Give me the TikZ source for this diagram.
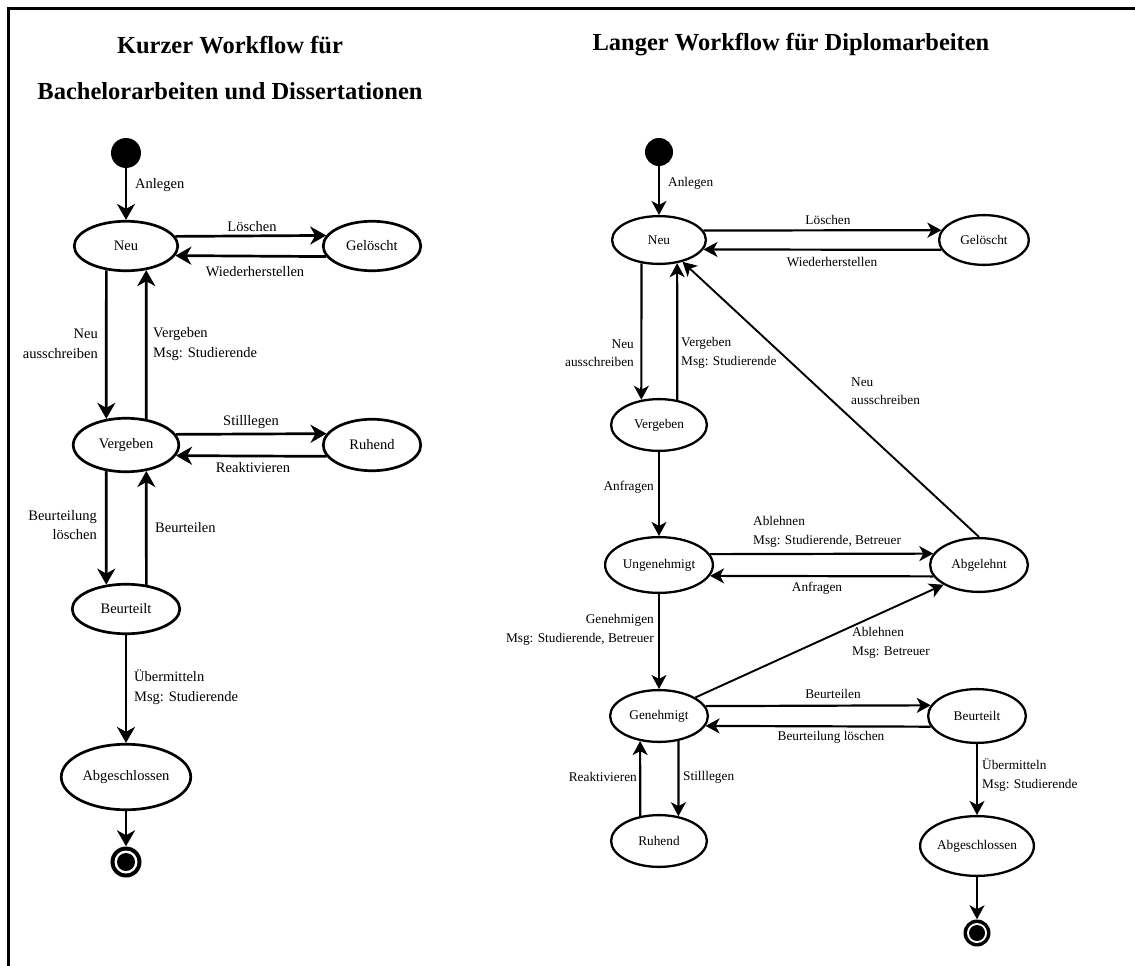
\documentclass[tikz,border=0pt]{standalone}
\usepackage{fontspec}
\setmainfont{Liberation Serif}
\usetikzlibrary{arrows.meta,shapes.geometric}

\tikzset{
  lstate/.style={ellipse, draw, line width=2.7pt, inner sep=0pt, font=\fontsize{14.5}{19}\selectfont},
  rstate/.style={ellipse, draw, line width=2.3pt, inner sep=0pt, font=\fontsize{13.3}{18}\selectfont},
  larr/.style={line width=2.7pt, -{Stealth[length=16pt,width=18pt,inset=5pt]}},
  rarr/.style={line width=2.2pt, -{Stealth[length=14pt,width=15pt,inset=4pt]}},
  rdiag/.style={line width=1.9pt, -{Stealth[length=14pt,width=15pt,inset=4pt]}},
  llab/.style={font=\fontsize{14.5}{19.5}\selectfont, inner sep=0pt},
  rlab/.style={font=\fontsize{13.3}{18.5}\selectfont, inner sep=0pt},
  ttl/.style={font=\fontsize{24.5}{29}\selectfont\bfseries, inner sep=0pt},
  startdot/.style={circle, fill=black, inner sep=0pt},
  enddot/.style={circle, fill=black, inner sep=0pt},
}

\begin{document}
\begin{tikzpicture}[x=1pt,y=-1pt]
\useasboundingbox (0,0) rectangle (1135,966);

% frame (top and left edges)
\draw[line width=3pt] (1135,9) -- (8,9) -- (8,966);

% titles
\node[ttl] (t1) at (230,45) {Kurzer Workflow für};
\node[ttl] (t2) at (230,91) {Bachelorarbeiten und Dissertationen};
\node[ttl] (t3) at (791,45) {Langer Workflow für Diplomarbeiten};

% ---------------- short workflow ----------------
\node[startdot, minimum size=30pt] (ini1) at (126,153) {};
\node[lstate, minimum width=103.5pt, minimum height=49.5pt] (neu1) at (126,246) {Neu};
\node[lstate, minimum width=97.5pt, minimum height=49.5pt] (gel1) at (372,246) {Gelöscht};
\node[lstate, minimum width=105.5pt, minimum height=53.5pt] (ver1) at (126,445) {Vergeben};
\node[lstate, minimum width=97.5pt, minimum height=51.5pt] (ruh1) at (372,445) {Ruhend};
\node[lstate, minimum width=107.5pt, minimum height=49.5pt] (beu1) at (126,609) {Beurteilt};
\node[lstate, minimum width=129.5pt, minimum height=65.5pt] (abg1) at (126,777) {Abgeschlossen};
\node[enddot, minimum size=31pt] (fin1) at (126,862) {};
\fill[white] (fin1.center) circle (11.5pt);
\fill[black] (fin1.center) circle (9pt);

\draw[larr] (ini1.south) -- (neu1.north);
\draw[larr] (neu1.11.6) -- (gel1.167.8);
\draw[larr] (gel1.-167.8) -- (neu1.-11.6);
\draw[larr] (neu1.-129.7) -- (ver1.127.6);
\draw[larr] (ver1.52.4) -- (neu1.-50.3);
\draw[larr] (ver1.12.5) -- (ruh1.166.5);
\draw[larr] (ruh1.-166.5) -- (ver1.-12.5);
\draw[larr] (ver1.-127.6) -- (beu1.129.6);
\draw[larr] (beu1.50.4) -- (ver1.-52.4);
\draw[larr] (beu1.south) -- (abg1.north);
\draw[larr] (abg1.south) -- (fin1.north);

\node[llab, anchor=west] (l1) at (135,185) {Anlegen};
\node[llab] (l2) at (252,227) {Löschen};
\node[llab] (l3) at (255,272) {Wiederherstellen};
\node[llab, anchor=east, align=right] (l4) at (98,344) {Neu\\ausschreiben};
\node[llab, anchor=west, align=left] (l5) at (153,344) {Vergeben\\Msg: Studierende};
\node[llab] (l6) at (251,422) {Stilllegen};
\node[llab] (l7) at (253,468) {Reaktivieren};
\node[llab, anchor=east, align=right] (l8) at (97,525) {Beurteilung\\löschen};
\node[llab, anchor=west] (l9) at (155,528) {Beurteilen};
\node[llab, anchor=west, align=left] (l10) at (134,687) {Übermitteln\\Msg: Studierende};

% ---------------- long workflow ----------------
\node[startdot, minimum size=28pt] (ini2) at (659,152) {};
\node[rstate, minimum width=93.8pt, minimum height=47.8pt] (neu2) at (659,240) {Neu};
\node[rstate, minimum width=89.8pt, minimum height=49.8pt] (gel2) at (984,240) {Gelöscht};
\node[rstate, minimum width=95.8pt, minimum height=51.8pt] (ver2) at (659,425) {Vergeben};
\node[rstate, minimum width=107.8pt, minimum height=55.8pt] (ung2) at (659,565) {Ungenehmigt};
\node[rstate, minimum width=97.8pt, minimum height=53.8pt] (abl2) at (979,565) {Abgelehnt};
\node[rstate, minimum width=97.8pt, minimum height=51.8pt] (gen2) at (659,716) {Genehmigt};
\node[rstate, minimum width=97.8pt, minimum height=53.8pt] (beu2) at (977,716) {Beurteilt};
\node[rstate, minimum width=95.8pt, minimum height=51.8pt] (ruh2) at (659,841) {Ruhend};
\node[rstate, minimum width=113.8pt, minimum height=59.8pt] (abg2) at (977,846) {Abgeschlossen};
\node[enddot, minimum size=27pt] (fin2) at (977,933) {};
\fill[white] (fin2.center) circle (10pt);
\fill[black] (fin2.center) circle (8pt);

\draw[rarr] (ini2.south) -- (neu2.north);
\draw[rarr] (neu2.12.1) -- (gel2.167.5);
\draw[rarr] (gel2.-167.5) -- (neu2.-12.1);
\draw[rarr] (neu2.-127.8) -- (ver2.125.6);
\draw[rarr] (ver2.54.4) -- (neu2.-52.2);
\draw[rarr] (ver2.south) -- (ung2.north);
\draw[rarr] (ung2.12.2) -- (abl2.166.6);
\draw[rarr] (abl2.-166.6) -- (ung2.-12.2);
\draw[rdiag] (abl2.north) -- (neu2);
\draw[rarr] (ung2.south) -- (gen2.north);
\draw[rdiag] (gen2.27.8) -- (abl2.-151.6);
\draw[rarr] (gen2.12.8) -- (beu2.167.2);
\draw[rarr] (beu2.-167.2) -- (gen2.-12.8);
\draw[rarr] (gen2.-52.8) -- (ruh2.52.7);
\draw[rarr] (ruh2.127.3) -- (gen2.-127.2);
\draw[rarr] (beu2.south) -- (abg2.north);
\draw[rarr] (abg2.south) -- (fin2.north);

\node[rlab, anchor=west] (r1) at (668,183) {Anlegen};
\node[rlab] (r2) at (828,220) {Löschen};
\node[rlab] (r3) at (832,262) {Wiederherstellen};
\node[rlab, anchor=east, align=right] (r4) at (634,353) {Neu\\ausschreiben};
\node[rlab, anchor=west, align=left] (r5) at (681,353) {Vergeben\\Msg: Studierende};
\node[rlab, anchor=west, align=left] (r6) at (851,391) {Neu\\ausschreiben};
\node[rlab, anchor=east] (r7) at (654,487) {Anfragen};
\node[rlab, anchor=west, align=left] (r8) at (753,532) {Ablehnen\\Msg: Studierende, Betreuer};
\node[rlab] (r9) at (817,588) {Anfragen};
\node[rlab, anchor=east, align=right] (r10) at (654,630) {Genehmigen\\Msg: Studierende, Betreuer};
\node[rlab, anchor=west, align=left] (r11) at (852,643) {Ablehnen\\Msg: Betreuer};
\node[rlab] (r12) at (833,694) {Beurteilen};
\node[rlab] (r13) at (831,737) {Beurteilung löschen};
\node[rlab, anchor=east] (r14) at (637,777) {Reaktivieren};
\node[rlab, anchor=west] (r15) at (683,777) {Stilllegen};
\node[rlab, anchor=west, align=left] (r16) at (982,775) {Übermitteln\\Msg: Studierende};
\end{tikzpicture}
\end{document}
